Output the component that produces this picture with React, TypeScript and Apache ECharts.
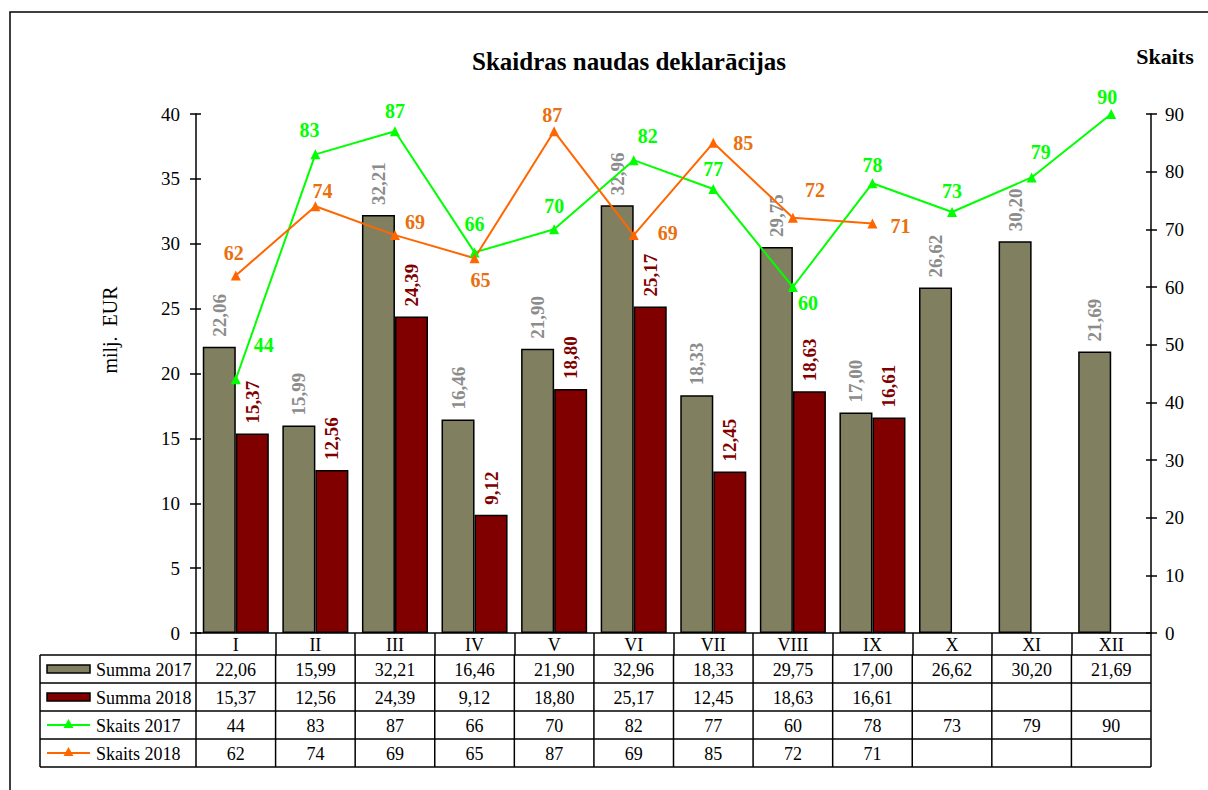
import React, { useEffect, useRef } from "react";
import * as echarts from "echarts";

const categories = ["I", "II", "III", "IV", "V", "VI", "VII", "VIII", "IX", "X", "XI", "XII"];
const summa2017 = [22.06, 15.99, 32.21, 16.46, 21.9, 32.96, 18.33, 29.75, 17.0, 26.62, 30.2, 21.69];
const summa2018 = [15.37, 12.56, 24.39, 9.12, 18.8, 25.17, 12.45, 18.63, 16.61, null, null, null];
const skaits2017 = [44, 83, 87, 66, 70, 82, 77, 60, 78, 73, 79, 90];
const skaits2018 = [62, 74, 69, 65, 87, 69, 85, 72, 71, null, null, null];

const seriesNames = ["Summa 2017", "Summa 2018", "Skaits 2017", "Skaits 2018"];

// label placement (style only)
const green17Pos: [string, number, number][] = [
  ["top", 28, -14], ["top", -6, -4], ["top", 0, 0], ["top", 0, -8], ["top", 0, -3], ["top", 14, -4],
  ["top", 0, 0], ["bottom", 15, -4], ["top", 0, 2], ["top", 0, -1], ["top", 9, -5], ["top", -4, 3],
];
const orange18Pos: [string, number, number][] = [
  ["top", -2, -2], ["top", 7, 5], ["right", 0, -13], ["bottom", 6, 2], ["top", -2, 4], ["right", 14, -2],
  ["right", 10, 0], ["right", 2, -28], ["right", 8, 2], ["top", 0, 0], ["top", 0, 0], ["top", 0, 0],
];

const FONT = "'Liberation Serif', 'Times New Roman', serif";
const C_OLIVE = "#808060";
const C_RED = "#800000";
const C_GREEN = "#00ff00";
const C_ORANGE = "#ff6600";
const C_ORANGE_LBL = "#e8700f";
const C_GREY = "#8c8c8c";
const TABLE_FS = 18;

const fmt = (v: number | null) => (v == null ? "" : v.toFixed(2).replace(".", ","));
const fmtInt = (v: number | null) => (v == null ? "" : String(v));

export default function App() {
  const ref = useRef<HTMLDivElement>(null);
  useEffect(() => {
    document.body.style.margin = "0";
    const chart = echarts.init(ref.current!, null, { renderer: "svg" });

    const gridLeft = 196;
    const gridRight = 57;
    const gridTop = 114;
    const gridBottom = 157;
    const headerH = 22;
    const rowH = 28;
    const plotBottomY = 790 - gridBottom;
    const lineStyle = { color: "#000", width: 1.5 };

    const option: any = {
      animation: false,
      backgroundColor: "#fff",
      title: [
        {
          text: "Skaidras naudas deklarācijas",
          left: 624,
          top: 44,
          textAlign: "center",
          textStyle: { fontFamily: FONT, fontSize: 25, fontWeight: "bold", color: "#000" },
        },
        {
          text: "Skaits",
          left: 1160,
          top: 40,
          textAlign: "center",
          textStyle: { fontFamily: FONT, fontSize: 22, fontWeight: "bold", color: "#000" },
        },
      ],
      grid: { left: gridLeft, right: gridRight, top: gridTop, bottom: gridBottom, containLabel: false },
      xAxis: [
        {
          type: "category",
          data: categories,
          position: "bottom",
          axisLine: { show: true, lineStyle },
          axisTick: { show: true, length: headerH, alignWithLabel: false, interval: 0, lineStyle },
          axisLabel: { interval: 0, margin: 3, fontFamily: FONT, fontSize: TABLE_FS, color: "#000" },
        },
      ],
      yAxis: [
        {
          type: "value",
          min: 0,
          max: 40,
          interval: 5,
          position: "left",
          axisLine: { show: true, lineStyle },
          axisTick: { show: true, length: 6, lineStyle },
          axisLabel: { margin: 16, fontFamily: FONT, fontSize: 19, color: "#000" },
          splitLine: { show: false },
        },
        {
          type: "value",
          min: 0,
          max: 90,
          interval: 10,
          position: "right",
          axisLine: { show: true, lineStyle },
          axisTick: { show: true, length: 6, lineStyle },
          axisLabel: { margin: 14, fontFamily: FONT, fontSize: 19, color: "#000" },
          splitLine: { show: false },
        },
        {
          type: "value",
          min: 0,
          max: 40,
          interval: 5,
          position: "left",
          axisLine: { show: false },
          axisTick: { show: true, inside: true, length: 5, lineStyle },
          axisLabel: { show: false },
          splitLine: { show: false },
        },
        {
          type: "value",
          min: 0,
          max: 90,
          interval: 10,
          position: "right",
          axisLine: { show: false },
          axisTick: { show: true, inside: true, length: 5, lineStyle },
          axisLabel: { show: false },
          splitLine: { show: false },
        },
      ],
      series: [
        {
          name: seriesNames[0],
          type: "bar",
          yAxisIndex: 0,
          data: summa2017,
          barGap: "0%",
          barCategoryGap: "17%",
          itemStyle: { color: C_OLIVE, borderColor: "#000", borderWidth: 1.5 },
          label: {
            show: true,
            position: "top",
            rotate: 90,
            align: "left",
            verticalAlign: "middle",
            distance: 10,
            formatter: (p: any) => fmt(p.value),
            fontFamily: FONT,
            fontSize: 19,
            fontWeight: "bold",
            color: C_GREY,
          },
          z: 2,
        },
        {
          name: seriesNames[1],
          type: "bar",
          yAxisIndex: 0,
          data: summa2018,
          barGap: "0%",
          barCategoryGap: "17%",
          itemStyle: { color: C_RED, borderColor: "#000", borderWidth: 1.5 },
          label: {
            show: true,
            position: "top",
            rotate: 90,
            align: "left",
            verticalAlign: "middle",
            distance: 10,
            formatter: (p: any) => fmt(p.value),
            fontFamily: FONT,
            fontSize: 19,
            fontWeight: "bold",
            color: C_RED,
          },
          z: 2,
        },
        {
          name: seriesNames[2],
          type: "line",
          yAxisIndex: 1,
          data: skaits2017.map((v, i) => ({
            value: v,
            label: { position: green17Pos[i][0], offset: [green17Pos[i][1], green17Pos[i][2]] },
          })),
          symbol: "triangle",
          symbolSize: 10,
          lineStyle: { color: C_GREEN, width: 2 },
          itemStyle: { color: C_GREEN },
          label: { show: true, fontFamily: FONT, fontSize: 20, fontWeight: "bold", color: C_GREEN },
          z: 5,
        },
        {
          name: seriesNames[3],
          type: "line",
          yAxisIndex: 1,
          data: skaits2018.map((v, i) => ({
            value: v,
            label: { position: orange18Pos[i][0], offset: [orange18Pos[i][1], orange18Pos[i][2]] },
          })),
          symbol: "triangle",
          symbolSize: 10,
          lineStyle: { color: C_ORANGE, width: 2 },
          itemStyle: { color: C_ORANGE },
          label: { show: true, fontFamily: FONT, fontSize: 20, fontWeight: "bold", color: C_ORANGE_LBL },
          z: 5,
        },
      ],
    };

    chart.setOption(option);

    // Data table drawn from the category axis' own pixel positions
    const xs = categories.map((c) => chart.convertToPixel({ xAxisIndex: 0 }, c) as number);
    const band = xs.length > 1 ? xs[1] - xs[0] : 80;
    const tableLeft = xs[0] - band / 2;
    const tableRight = xs[xs.length - 1] + band / 2;
    const rowsTop = plotBottomY + headerH;
    const rowData = [summa2017.map(fmt), summa2018.map(fmt), skaits2017.map(fmtInt), skaits2018.map(fmtInt)];

    const g: any[] = [
      {
        type: "rect",
        shape: { x: 10, y: 12, width: 1230, height: 820 },
        style: { fill: "none", stroke: "#000", lineWidth: 1.5 },
        silent: true,
      },
    ];
    const strokeStyle = { stroke: "#000", lineWidth: 1.5 };
    for (let r = 0; r <= rowData.length; r++) {
      const y = rowsTop + r * rowH;
      g.push({ type: "line", shape: { x1: 40, y1: y, x2: tableRight, y2: y }, style: strokeStyle, silent: true });
    }
    const bottomY = rowsTop + rowData.length * rowH;
    g.push({ type: "line", shape: { x1: 40, y1: rowsTop, x2: 40, y2: bottomY }, style: strokeStyle, silent: true });
    for (let i = 0; i <= categories.length; i++) {
      const x = tableLeft + i * band;
      g.push({ type: "line", shape: { x1: x, y1: rowsTop, x2: x, y2: bottomY }, style: strokeStyle, silent: true });
    }
    rowData.forEach((row, r) => {
      const cy = rowsTop + r * rowH + rowH / 2 + 1;
      row.forEach((txt, i) => {
        if (!txt) return;
        g.push({
          type: "text",
          x: xs[i],
          y: cy,
          style: { text: txt, font: `${TABLE_FS}px ${FONT}`, fill: "#000", align: "center", verticalAlign: "middle" },
          silent: true,
        });
      });
    });
    seriesNames.forEach((name, i) => {
      const cy = rowsTop + i * rowH + rowH / 2;
      if (i < 2) {
        g.push({
          type: "rect",
          shape: { x: 47, y: cy - 4, width: 43, height: 8 },
          style: { fill: i === 0 ? C_OLIVE : C_RED, stroke: "#000", lineWidth: 1.5 },
          silent: true,
        });
      } else {
        const col = i === 2 ? C_GREEN : C_ORANGE;
        g.push({
          type: "line",
          shape: { x1: 47, y1: cy, x2: 90, y2: cy },
          style: { stroke: col, lineWidth: 2 },
          silent: true,
        });
        g.push({
          type: "polygon",
          shape: { points: [[68.5, cy - 6], [63.5, cy + 3], [73.5, cy + 3]] },
          style: { fill: col },
          silent: true,
        });
      }
      g.push({
        type: "text",
        x: 96,
        y: cy + 1,
        style: { text: name, font: `${TABLE_FS}px ${FONT}`, fill: "#000", verticalAlign: "middle", align: "left" },
        silent: true,
      });
    });
    g.push({
      type: "text",
      x: 110,
      y: 330,
      rotation: Math.PI / 2,
      style: { text: "milj.  EUR", font: `20px ${FONT}`, fill: "#000", align: "center", verticalAlign: "middle" },
      silent: true,
    });

    chart.setOption({ graphic: g });
    return () => chart.dispose();
  }, []);

  return <div ref={ref} style={{ width: 1208, height: 790 }} />;
}
